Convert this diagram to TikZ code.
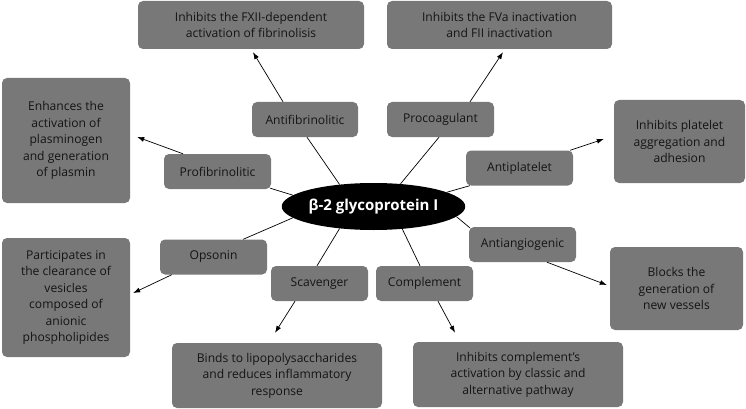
\documentclass[tikz,border=0pt]{standalone}
\usepackage{fontspec}
\setmainfont{Open Sans}
\usetikzlibrary{arrows.meta,calc,shapes.geometric}
\definecolor{boxgray}{HTML}{787878}
\definecolor{txtc}{HTML}{141414}
\begin{document}
\begin{tikzpicture}[x=1pt,y=-1pt,
  box/.style={rectangle, rounded corners=5pt, fill=boxgray, text=txtc, align=center, inner sep=0pt, font=\fontsize{12.1}{16.5}\selectfont},
  midbox/.style={box, minimum height=35pt},
  link/.style={draw=black, line width=0.7pt},
  arr/.style={link, -{Latex[length=7pt,width=5pt]}}]
\useasboundingbox (0,0) rectangle (746,409);
% central ellipse
\node[ellipse, fill=black, text=white, minimum width=173pt, minimum height=47pt, inner sep=0pt, font=\bfseries\fontsize{15}{18}\selectfont] (ell) at (373.5,206.5) {β-2 glycoprotein I};
% outer boxes
\node[box, minimum width=226pt, minimum height=48pt] (fxii) at (251,25) {Inhibits the FXII-dependent\\activation of fibrinolisis};
\node[box, minimum width=225pt, minimum height=48pt] (fva) at (499.5,25) {Inhibits the FVa inactivation\\and FII inactivation};
\node[box, minimum width=128pt, minimum height=125pt] (enh) at (66,140.5) {Enhances the\\activation of\\plasminogen\\and generation\\of plasmin};
\node[box, minimum width=131pt, minimum height=83pt] (plat) at (679.5,141.5) {Inhibits platelet\\aggregation and\\adhesion};
\node[box, minimum width=128pt, minimum height=119pt] (part) at (66,297.5) {Participates in\\the clearance of\\vesicles\\composed of\\anionic\\phospholipides};
\node[box, minimum width=133pt, minimum height=83pt] (blocks) at (676.5,288.5) {Blocks the\\generation of\\new vessels};
\node[box, minimum width=210pt, minimum height=65pt] (binds) at (277,375.5) {Binds to lipopolysaccharides\\and reduces inflammatory\\response};
\node[box, minimum width=210pt, minimum height=65pt] (comp) at (518,374.5) {Inhibits complement’s\\activation by classic and\\alternative pathway};
% middle boxes
\node[midbox, minimum width=106pt] (antifib) at (305,119.5) {Antifibrinolitic};
\node[midbox, minimum width=107pt] (procoag) at (440.5,119.5) {Procoagulant};
\node[midbox, minimum width=107pt] (profib) at (217.5,171.5) {Profibrinolitic};
\node[midbox, minimum width=107pt] (antiplat) at (519.5,168) {Antiplatelet};
\node[midbox, minimum width=107pt] (antiang) at (522.5,244.5) {Antiangiogenic};
\node[midbox, minimum width=107pt] (opson) at (213.5,257) {Opsonin};
\node[midbox, minimum width=97pt] (scav) at (319.5,283.5) {Scavenger};
\node[midbox, minimum width=97pt] (complm) at (424.5,283.5) {Complement};
% links ellipse -> middle boxes
\draw[link] (ell.147) -- ($(antifib.south)+(2,0)$);
\draw[link] (ell.40) -- ($(procoag.south)+(-1.5,0)$);
\draw[link] (ell.172) -- ($(profib.south east)+(-1,-1)$);
\draw[link] (ell.11) -- ($(antiplat.south west)+(4,0)$);
\draw[link] (ell.-7) -- ($(antiang.north west)+(1,1)$);
\draw[link] (ell.188) -- ($(opson.north east)+(-24,0)$);
\draw[link] (ell.213) -- ($(scav.north)+(-2.5,0)$);
\draw[link] (ell.-38) -- ($(complm.north)+(-4.5,0)$);
% arrows middle -> outer
\draw[arr] ($(antifib.north)+(-22,0)$) -- ($(fxii.south)+(2,3)$);
\draw[arr] ($(procoag.north)+(29.5,0)$) -- ($(fva.south)+(3.5,3)$);
\draw[arr] ($(profib.north)+(-34.5,0)$) -- ($(enh.east)+(7,-3.5)$);
\draw[arr] ($(antiplat.north east)+(-3,0)$) -- ($(plat.west)+(-10,-2.5)$);
\draw[arr] ($(antiang.south)+(24.5,0)$) -- ($(blocks.west)+(-3,-3.5)$);
\draw[arr] ($(opson.south west)+(12,0)$) -- ($(part.east)+(3,-4.5)$);
\draw[arr] ($(scav.south)+(-24.5,0)$) -- ($(binds.north)+(-2,-10)$);
\draw[arr] ($(complm.south)+(13.5,0)$) -- ($(comp.north)+(-63,-9)$);
\end{tikzpicture}
\end{document}
